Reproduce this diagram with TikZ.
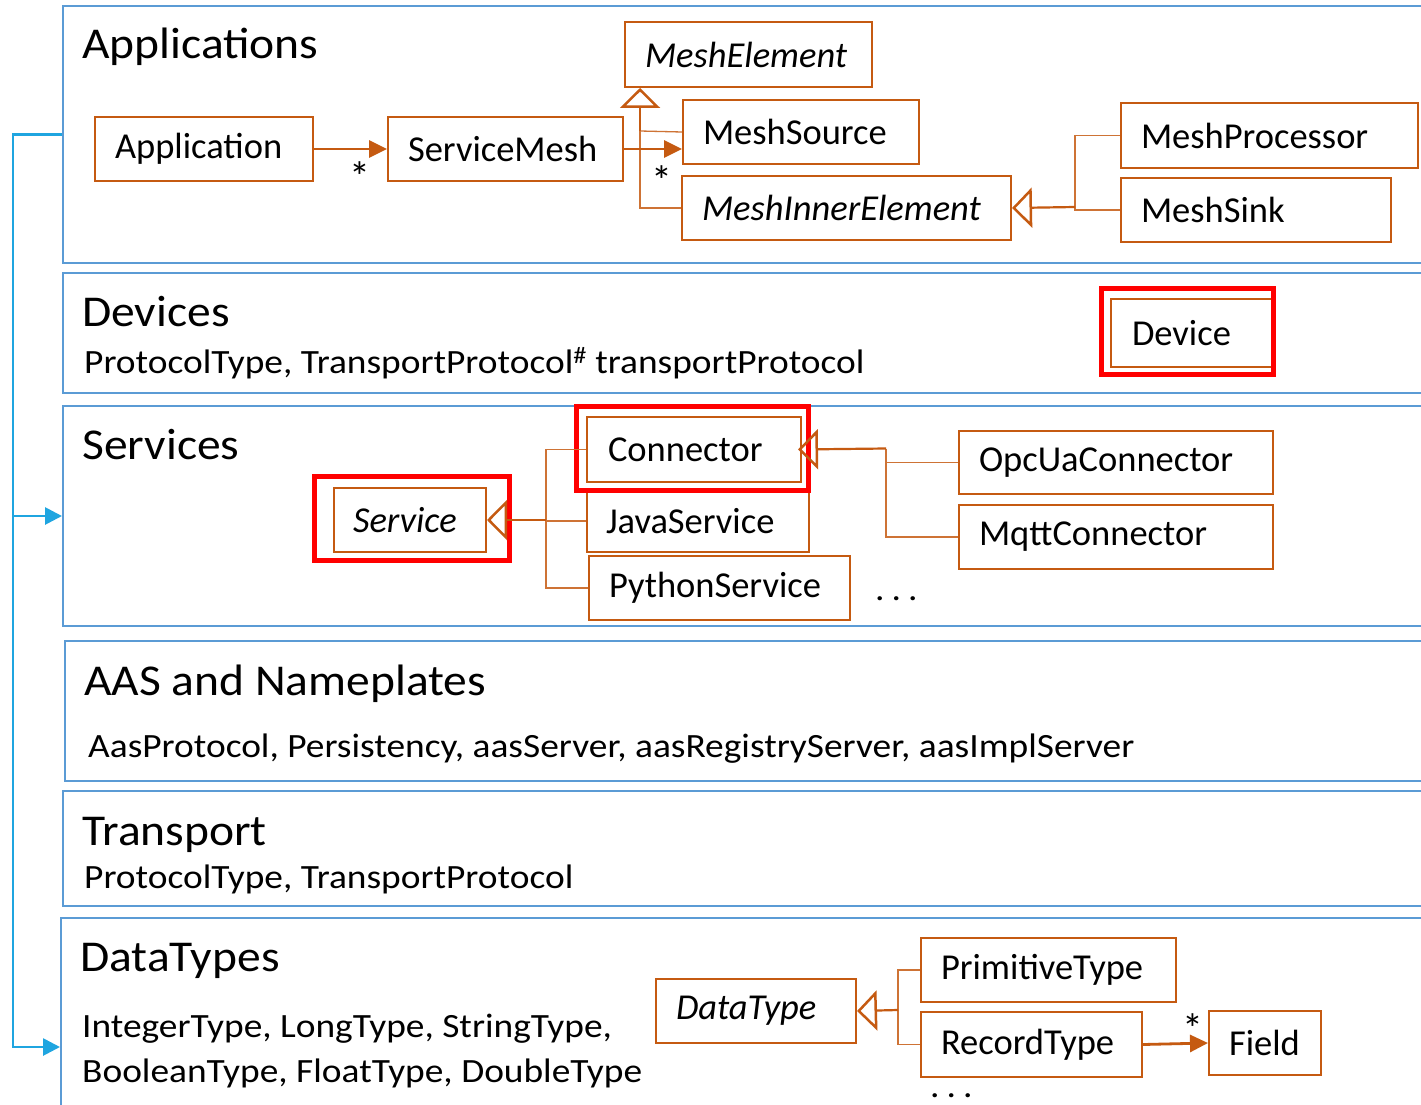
\documentclass[tikz,border=0pt]{standalone}
\usepackage{fontspec}
\setmainfont{Carlito}
\newfontfamily\ttlfam[FakeStretch=1.08]{Carlito}
\newfontfamily\bdyfam[FakeStretch=1.10]{Carlito}
\usetikzlibrary{arrows.meta}
\definecolor{orng}{HTML}{C55A11}
\definecolor{lblue}{HTML}{5B9BD5}
\definecolor{cyanl}{HTML}{1FA5E0}
\definecolor{hred}{HTML}{FF0000}
\newcommand\ttlfont{\ttlfam\fontsize{44}{52}\selectfont}
\newcommand\bdyfont{\bdyfam\fontsize{34}{40}\selectfont}
\newcommand\bxfont{\fontsize{36.5}{44}\selectfont}
\begin{document}
\begin{tikzpicture}[x=1pt,y=-1pt,
  layer/.style={draw=lblue, line width=2pt, anchor=north west, inner sep=0pt},
  cls/.style={draw=orng, line width=2pt, fill=white, inner xsep=20pt, inner ysep=0pt, align=left, anchor=north west, font=\bxfont},
  ttl/.style={anchor=base west, inner sep=0pt, font=\ttlfont},
  bdy/.style={anchor=base west, inner sep=0pt, font=\bdyfont},
  mult/.style={inner sep=0pt, font=\fontsize{42}{46}\selectfont},
  hl/.style={draw=hred, line width=5pt},
  assoc/.style={draw=orng, line width=2.8pt, -{Triangle[length=18pt,width=17pt]}},
  genstem/.style={draw=orng, line width=2.2pt, -{Triangle[open, length=20pt, width=40pt, line width=2.5pt]}},
  genbr/.style={draw=orng!85, line width=1.3pt},
  cy/.style={draw=cyanl, line width=2.8pt},
  cyarr/.style={cy, -{Triangle[length=17pt,width=17pt]}}
]
\clip (0,0) rectangle (1421,1105);
\fill[white] (0,0) rectangle (1421,1105);

% layers
\node[layer, minimum width=1400, minimum height=257] (L1) at (62,5) {};
\node[layer, minimum width=1400, minimum height=120] (L2) at (62,272) {};
\node[layer, minimum width=1400, minimum height=220] (L3) at (62,405) {};
\node[layer, minimum width=1400, minimum height=140] (L4) at (64,640) {};
\node[layer, minimum width=1400, minimum height=115] (L5) at (62,790) {};
\node[layer, minimum width=1400, minimum height=220] (L6) at (60,917) {};

% titles and texts
\node[ttl] (t1) at (82,59) {Applications};
\node[ttl] (t2) at (82,326) {Devices};
\node[bdy] (b2) at (84,373) {ProtocolType, TransportProtocol\textsuperscript{\#} transportProtocol};
\node[ttl] (t3) at (82,459) {Services};
\node[ttl] (t4) at (84,695) {AAS and Nameplates};
\node[bdy] (b4) at (88,757) {AasProtocol, Persistency, aasServer, aasRegistryServer, aasImplServer};
\node[ttl] (t5) at (82,845) {Transport};
\node[bdy] (b5) at (84,888) {ProtocolType, TransportProtocol};
\node[ttl] (t6) at (80,971) {DataTypes};
\node[bdy] (b6a) at (82,1037) {IntegerType, LongType, StringType,};
\node[bdy] (b6b) at (82,1082) {BooleanType, FloatType, DoubleType};

% cyan connectors
\coordinate (cx) at (13,0);
\coordinate (dtin) at (60,1047);
\draw[cyarr] (L1.west) -| (cx |- dtin) -- (dtin);
\draw[cyarr] (cx |- L3.west) -- (L3.west);

% Applications classes
\node[cls, text width=178, minimum height=64] (app) at (94,116) {Application};
\node[cls, text width=195, minimum height=64] (sm) at (387,116) {ServiceMesh};
\node[cls, text width=207, minimum height=65] (me) at (624,21) {\itshape MeshElement};
\node[cls, text width=196, minimum height=64] (ms) at (682,99) {MeshSource};
\node[cls, text width=289, minimum height=64] (mie) at (681,175) {\itshape MeshInnerElement};
\node[cls, text width=257, minimum height=65] (mp) at (1120,102) {MeshProcessor};
\node[cls, text width=230, minimum height=64] (msk) at (1120,177) {MeshSink};

\coordinate (tme) at ([xshift=16pt]me.south west);
\coordinate (mej) at (640,131);
\draw[genbr] (mie.west) -| (mej);
\draw[genbr] (ms.west) -- (mej);
\draw[genstem] (mej) -- (tme);

\coordinate (mj) at (1075,207);
\draw[genbr] (mp.west) -| (mj);
\draw[genbr] (msk.west) -| (mj);
\draw[genstem] (mj) -- (mie.east);

\draw[assoc] (app.east) -- (sm.west);
\node[mult] (s1) at (360,177) {*};
\draw[assoc] (sm.east) -- (sm.east -| ms.west);
\node[mult] (s2) at (662,181) {*};

% Devices
\node[cls, text width=120, minimum height=68, inner xsep=21pt] (dev) at (1110,298) {Device};
\draw[hl] (1101,288) rectangle (1273,374);

% Services
\node[cls, text width=114, minimum height=64, inner xsep=19pt] (svc) at (333,487) {\itshape Service};
\node[cls, text width=172, minimum height=65, inner xsep=21pt] (con) at (586,416) {Connector};
\node[cls, text width=184, minimum height=62, inner xsep=19pt] (js) at (586,489) {JavaService};
\node[cls, text width=221, minimum height=64, inner xsep=20pt] (ps) at (588,555) {PythonService};
\node[cls, text width=274, minimum height=63, inner xsep=20pt] (opc) at (958,430) {OpcUaConnector};
\node[cls, text width=274, minimum height=64, inner xsep=20pt] (mq) at (958,504) {MqttConnector};
\node[bdy] (dots1) at (875,600) {.\hspace{7pt}.\hspace{7pt}.};

\draw[hl] (314,476) rectangle (509,560);
\draw[hl] (576,406) rectangle (808,490);

\coordinate (sj) at (546,520);
\draw[genbr] (con.west) -| (sj);
\draw[genbr] (js.west) -- (js.west -| sj);
\draw[genbr] (ps.west) -| (sj);
\draw[genstem] (sj) -- (svc.east);

\coordinate (cj) at (886,448.5);
\draw[genbr] (opc.west) -| (cj);
\draw[genbr] (mq.west) -| (cj);
\draw[genstem] (cj) -- ([xshift=-4pt]con.east);

% DataTypes
\node[cls, text width=160, minimum height=64, inner xsep=20pt] (dtp) at (655,978) {\itshape DataType};
\node[cls, text width=215, minimum height=64, inner xsep=20pt] (pt) at (920,937) {PrimitiveType};
\node[cls, text width=181, minimum height=65, inner xsep=20pt] (rt) at (920,1011) {RecordType};
\node[cls, text width=72, minimum height=64, inner xsep=20pt] (fld) at (1208,1010) {Field};

\coordinate (dj) at (898,1010);
\draw[genbr] (pt.west) -| (dj);
\draw[genbr] (rt.west) -| (dj);
\draw[genstem] (dj) -- (dtp.east);

\draw[assoc] (rt.east) -- (fld.west);
\node[mult] (s3) at (1193,1029) {*};
\node[bdy] (dots2) at (930,1097) {.\hspace{7pt}.\hspace{7pt}.};
\end{tikzpicture}
\end{document}
